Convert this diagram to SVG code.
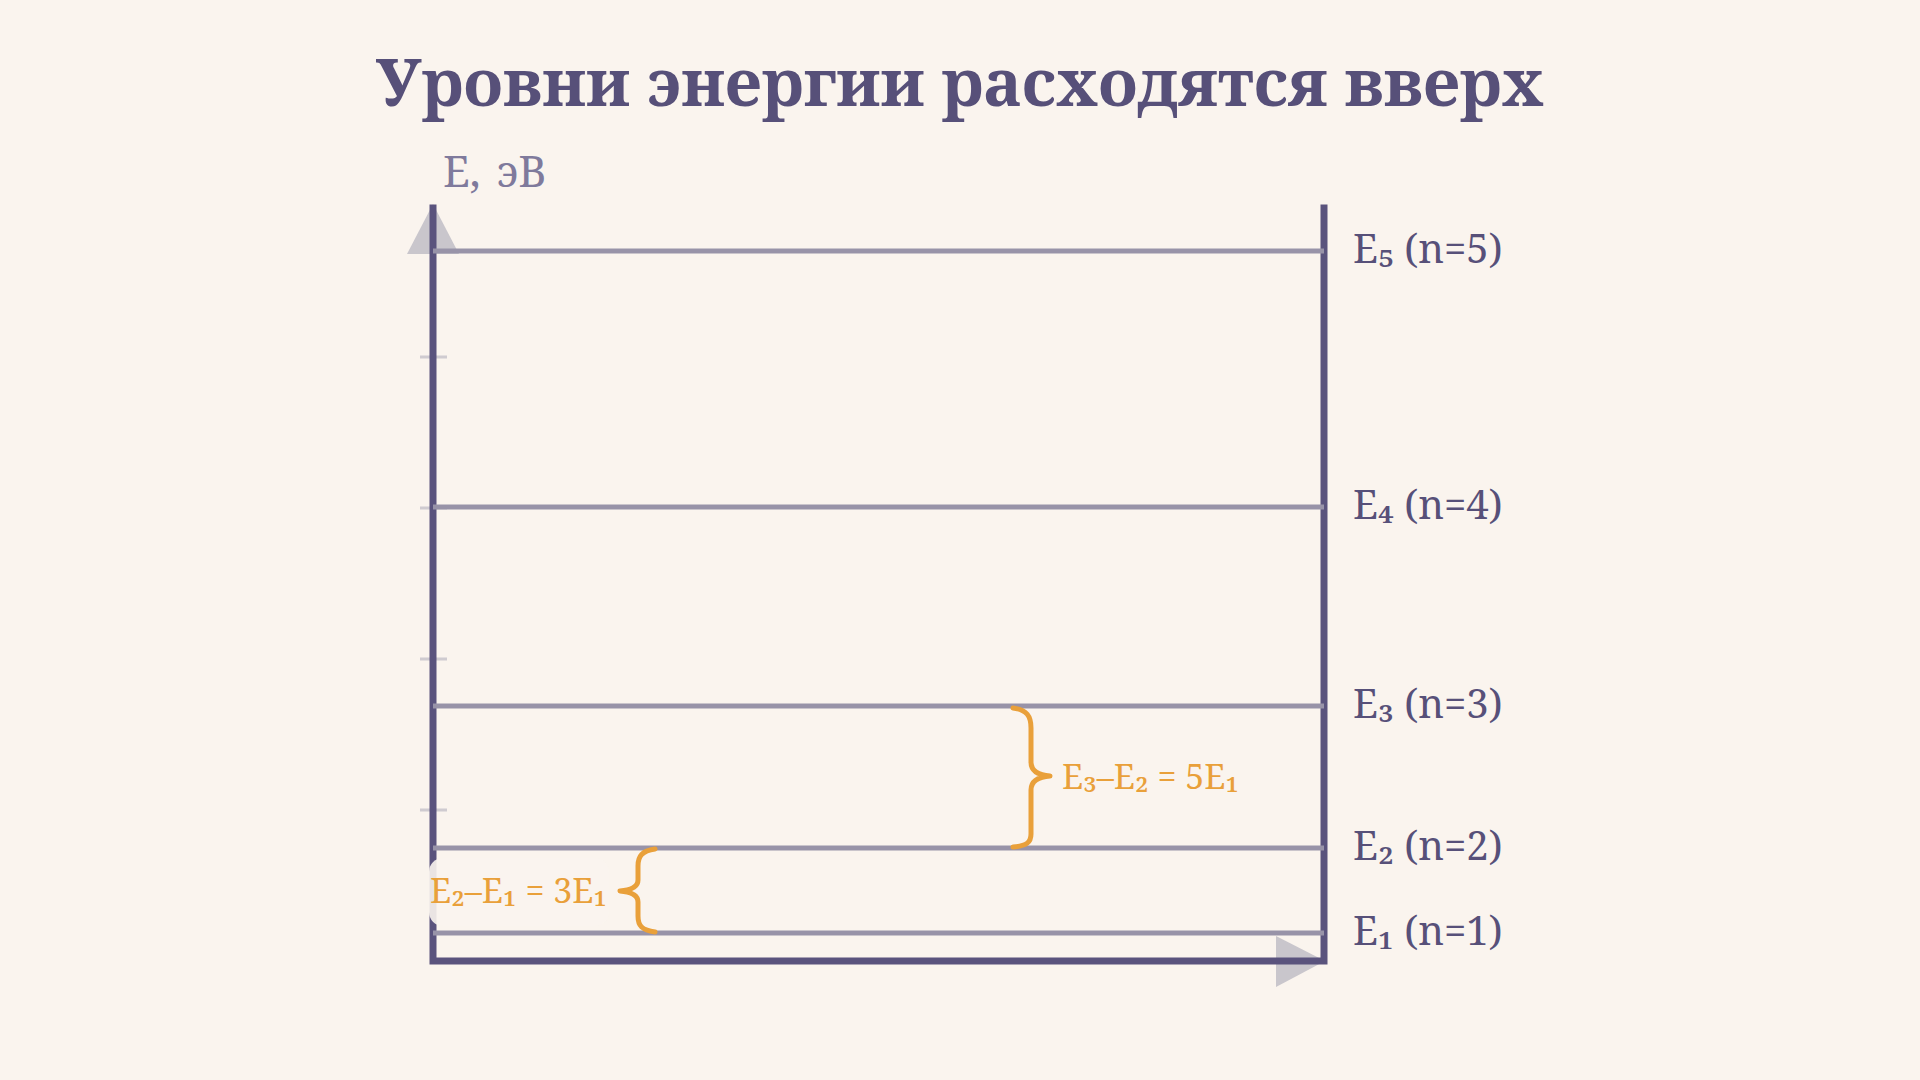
<svg xmlns="http://www.w3.org/2000/svg" width="1920" height="1080" viewBox="0 0 1920 1080">
  <defs>
    <style>
      .title { font-family: "Noto Serif", "DejaVu Serif", "Liberation Serif", serif; font-weight: bold; font-size: 65px; fill: #575079; }
      .axislbl { font-family: "Noto Serif", "DejaVu Serif", "Liberation Serif", serif; font-size: 43px; fill: #7f7a9c; }
      .lvl { font-family: "Noto Serif", "DejaVu Serif", "Liberation Serif", serif; font-size: 40px; fill: #575079; }
      .diff { font-family: "Noto Serif", "DejaVu Serif", "Liberation Serif", serif; font-size: 34px; fill: #e9a03a; }
      .axis { stroke: #5a537d; stroke-width: 7; fill: none; stroke-linecap: square; }
      .level { stroke: #9893a8; stroke-width: 5; fill: none; }
      .tick { stroke: #cfcbd0; stroke-width: 3; }
      .arrow { fill: #c9c6cc; }
      .brace { stroke: #e9a03a; stroke-width: 5; fill: none; stroke-linecap: round; stroke-linejoin: round; }
    </style>
  </defs>
  <rect width="1920" height="1080" fill="#faf4ee"/>
  <text class="title" x="960" y="106" text-anchor="middle">Уровни энергии расходятся вверх</text>

  <g id="axes">
    <polygon class="arrow" points="433,204 407,254 459,254"/>
    <polygon class="arrow" points="1325,961 1276,936 1276,987"/>
    <line class="tick" x1="420" y1="357" x2="447" y2="357"/>
    <line class="tick" x1="420" y1="508" x2="447" y2="508"/>
    <line class="tick" x1="420" y1="659" x2="447" y2="659"/>
    <line class="tick" x1="420" y1="810" x2="447" y2="810"/>
    <path class="axis" d="M433,208 L433,961 L1324,961 L1324,208"/>
    <text class="axislbl" x="443" y="187">E,<tspan x="497">эВ</tspan></text>
  </g>

  <g id="levels">
    <g id="E5"><line class="level" x1="433" y1="251" x2="1324" y2="251"/><text class="lvl" x="1353" y="263">E₅ (n=5)</text></g>
    <g id="E4"><line class="level" x1="433" y1="507" x2="1324" y2="507"/><text class="lvl" x="1353" y="519">E₄ (n=4)</text></g>
    <g id="E3"><line class="level" x1="433" y1="706" x2="1324" y2="706"/><text class="lvl" x="1353" y="718">E₃ (n=3)</text></g>
    <g id="E2"><line class="level" x1="433" y1="848" x2="1324" y2="848"/><text class="lvl" x="1353" y="860">E₂ (n=2)</text></g>
    <g id="E1"><line class="level" x1="433" y1="933" x2="1324" y2="933"/><text class="lvl" x="1353" y="945">E₁ (n=1)</text></g>
  </g>

  <g id="gap32">
    <path class="brace" d="M1013,708 C1027,710 1031,716 1031,728 L1031,762 C1031,770 1037,775 1050,776 C1037,777 1031,782 1031,790 L1031,834 C1031,842 1027,846 1013,847"/>
    <text class="diff" x="1062" y="789">E₃–E₂ = 5E₁</text>
  </g>

  <g id="gap21">
    <rect x="429" y="858" width="180" height="68" rx="14" fill="#faf4ee" opacity="0.9"/>
    <path class="brace" d="M655,849 C642,851 638,856 638,866 L638,880 C638,886 632,890 620,891 C632,892 638,896 638,902 L638,916 C638,926 642,930 655,932"/>
    <text class="diff" x="430" y="903">E₂–E₁ = 3E₁</text>
  </g>
</svg>
